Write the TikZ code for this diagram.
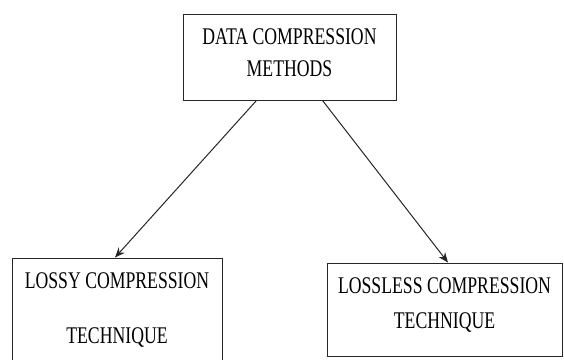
\documentclass[tikz,border=0pt]{standalone}
\usepackage{graphicx}
\usepackage{fontspec}
\setmainfont{Liberation Serif}
\usetikzlibrary{positioning,arrows.meta}

\newcommand\stretchtxt[1]{\raisebox{4.5pt}[\height][\depth]{\scalebox{1}[1.35]{#1}}}

\tikzset{box/.style={draw=black!85, line width=0.9pt, align=center, inner sep=0pt,
    font=\fontsize{17.7}{32}\selectfont}}

\begin{document}
\begin{tikzpicture}[x=1pt, y=-1pt, ->, >={Stealth[length=10pt,width=8pt]}]
    \useasboundingbox (0,0) rectangle (564,359);

                % Nodes
                \node (meth) [box, minimum width=213, minimum height=86] at (289.5,57) {\stretchtxt{DATA COMPRESSION}\\\stretchtxt{METHODS}};
                \node (lossy) [box, minimum width=210, minimum height=114] at (117,315) {\stretchtxt{LOSSY COMPRESSION}\\[23pt]\stretchtxt{TECHNIQUE}};
                \node (lossless) [box, minimum width=235, minimum height=93] at (444.5,309.5) {\stretchtxt{LOSSLESS COMPRESSION}\\[3pt]\stretchtxt{TECHNIQUE}};

                % Arrows
                \draw[black!85, line width=1pt] ([xshift=-33pt]meth.south) -- ([xshift=-2pt]lossy.north);
                \draw[black!85, line width=1pt] ([xshift=33pt]meth.south) -- ([xshift=3.5pt]lossless.north);

            \end{tikzpicture}
\end{document}
